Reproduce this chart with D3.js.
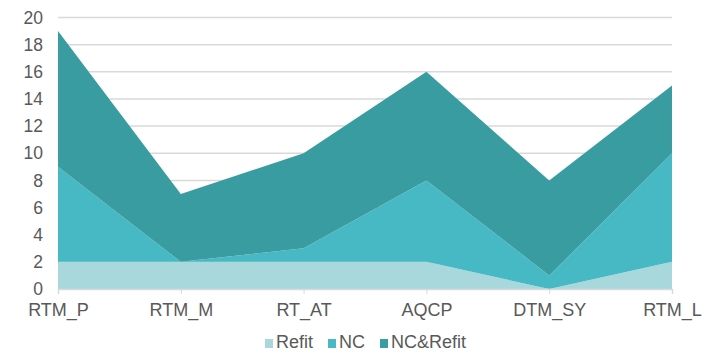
<!DOCTYPE html>
<html>
<head>
<meta charset="utf-8">
<script src="https://cdn.jsdelivr.net/npm/d3@7"></script>
<style>
  body { margin: 0; background: #fff; }
  text { font-family: Arial, "Liberation Sans", sans-serif; fill: #595959; }
</style>
</head>
<body>
<div id="chart"></div>
<script>
// data
const categories = ['RTM_P', 'RTM_M', 'RT_AT', 'AQCP', 'DTM_SY', 'RTM_L'];
const refit = [2, 2, 2, 2, 0, 2];
const nc = [7, 0, 1, 6, 1, 8];
const ncRefit = [10, 5, 7, 8, 7, 5];
const seriesNames = ['Refit', 'NC', 'NC&Refit'];
const yTicks = [0, 2, 4, 6, 8, 10, 12, 14, 16, 18, 20];

const colors = ['#a8d7dc', '#47b9c5', '#399ca1'];

const w = 709, h = 358;
const svg = d3.select('#chart').append('svg')
  .attr('width', w)
  .attr('height', h);

const x = d3.scalePoint()
  .domain(categories)
  .range([58, 672]);

const y = d3.scaleLinear()
  .domain([0, 20])
  .range([289, 17.5]);

// gridlines
svg.append('g')
  .selectAll('line')
  .data(yTicks.filter(d => d > 0))
  .enter()
  .append('line')
  .attr('x1', 58).attr('x2', 672)
  .attr('y1', d => y(d)).attr('y2', d => y(d))
  .style('stroke', '#d9d9d9')
  .style('stroke-width', '1.5px');

// stack the three series
const table = categories.map((c, i) => ({
  cat: c, 'Refit': refit[i], 'NC': nc[i], 'NC&Refit': ncRefit[i]
}));
const stacked = d3.stack().keys(seriesNames)(table);

const area = d3.area()
  .x(d => x(d.data.cat))
  .y0(d => y(d[0]))
  .y1(d => y(d[1]));

svg.append('g')
  .selectAll('path')
  .data(stacked)
  .enter()
  .append('path')
  .attr('d', area)
  .style('fill', (d, i) => colors[i]);

// x axis
const xAxis = svg.append('g')
  .attr('transform', `translate(0,${y(0)})`)
  .call(d3.axisBottom(x).tickSize(5).tickPadding(9));
xAxis.select('.domain').style('stroke', '#d9d9d9').style('stroke-width', '1.5px');
xAxis.selectAll('.tick line').style('stroke', '#d9d9d9');
xAxis.selectAll('.tick text')
  .style('font-size', '18px')
  .style('font-family', 'Arial, "Liberation Sans", sans-serif')
  .style('fill', '#595959');

// y axis
const yAxis = svg.append('g')
  .attr('transform', 'translate(58,0)')
  .call(d3.axisLeft(y).tickValues(yTicks).tickSize(0).tickPadding(15));
yAxis.select('.domain').remove();
yAxis.selectAll('.tick text')
  .style('font-size', '17.5px')
  .style('font-family', 'Arial, "Liberation Sans", sans-serif')
  .style('fill', '#595959');

// legend
const legend = svg.append('g').attr('transform', 'translate(265,348)');
let lx = 0;
seriesNames.forEach((name, i) => {
  const g = legend.append('g').attr('transform', `translate(${lx},0)`);
  g.append('rect')
    .attr('x', 0).attr('y', -9)
    .attr('width', 8).attr('height', 9)
    .style('fill', colors[i]);
  const t = g.append('text')
    .attr('x', 11).attr('y', 0)
    .style('font-size', '18px')
    .text(name);
  lx += 11 + t.node().getComputedTextLength() + 15;
});
</script>
</body>
</html>
